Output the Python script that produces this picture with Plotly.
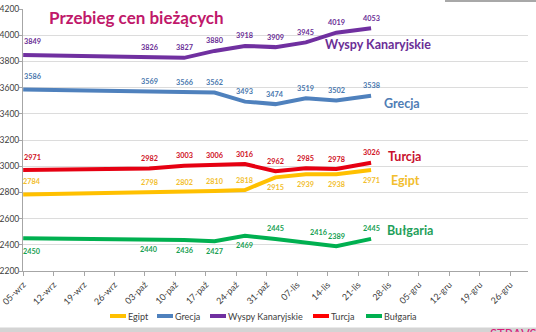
import plotly.graph_objects as go

# Observation dates (weekly price snapshots)
dates = ["2011-09-05", "2011-10-04", "2011-10-12", "2011-10-19", "2011-10-26",
         "2011-11-02", "2011-11-09", "2011-11-16", "2011-11-24"]

# Average current prices per destination
egipt = [2784, 2798, 2802, 2810, 2818, 2915, 2939, 2938, 2971]
grecja = [3586, 3569, 3566, 3562, 3493, 3474, 3519, 3502, 3538]
wyspy = [3849, 3826, 3827, 3880, 3918, 3909, 3945, 4019, 4053]
turcja = [2971, 2982, 3003, 3006, 3016, 2962, 2985, 2978, 3026]
bulgaria = [2450, 2440, 2436, 2427, 2469, 2445, 2416, 2389, 2445]

# Axis ticks
tick_dates = ["2011-09-05", "2011-09-12", "2011-09-19", "2011-09-26", "2011-10-03",
              "2011-10-10", "2011-10-17", "2011-10-24", "2011-10-31", "2011-11-07",
              "2011-11-14", "2011-11-21", "2011-11-28", "2011-12-05", "2011-12-12",
              "2011-12-19", "2011-12-26"]
tick_labels = ["05-wrz", "12-wrz", "19-wrz", "26-wrz", "03-paź", "10-paź", "17-paź",
               "24-paź", "31-paź", "07-lis", "14-lis", "21-lis", "28-lis", "05-gru",
               "12-gru", "19-gru", "26-gru"]
y_ticks = [2200, 2400, 2600, 2800, 3000, 3200, 3400, 3600, 3800, 4000, 4200]

FONT = "Lato"

series = [
    # name, values, line colour, label colour, label side per point (+1 above, -1 below)
    ("Egipt", egipt, "#FFC000", "#F2BE2E", [1, 1, 1, 1, 1, -1, -1, -1, -1]),
    ("Grecja", grecja, "#4F81BD", "#4A78AE", [1] * 9),
    ("Wyspy Kanaryjskie", wyspy, "#7030A0", "#6A2E96", [1] * 9),
    ("Turcja", turcja, "#E60012", "#D0101E", [1] * 9),
    ("Bułgaria", bulgaria, "#00B050", "#17A052", [-1, -1, -1, -1, -1, 1, 1, 1, 1]),
]

# Series names written next to the line ends: (text, x px, y px, colour)
side_names = [
    ("Wyspy Kanaryjskie", 378, 44.5, "#6A2E96"),
    ("Grecja", 402, 103, "#4F7DB5"),
    ("Turcja", 404, 156, "#C8102E"),
    ("Egipt", 405, 180, "#F2BE2E"),
    ("Bułgaria", 410, 230, "#1FA05A"),
]

W, H = 536, 332
ML, MR, MT, MB = 23, 8, 9, 61
PW, PH = W - ML - MR, H - MT - MB


def px(x):
    return (x - ML) / PW


def py(y):
    return (H - MB - y) / PH


fig = go.Figure()
annotations = []

for name, vals, lc, tc, sides in series:
    fig.add_trace(go.Scatter(
        x=dates, y=vals, mode="lines", name=name,
        line=dict(color=lc, width=4), showlegend=False, hoverinfo="skip",
    ))
    for i, (d, v) in enumerate(zip(dates, vals)):
        xs = 0
        ys = 10 * sides[i]
        if i == 0:
            xs = 9
            ys = 13 * sides[i]
        if name == "Bułgaria" and i == 6:
            xs = 13
        annotations.append(dict(
            x=d, y=v, text=str(v), showarrow=False, xshift=xs, yshift=ys,
            font=dict(family=FONT, size=7.3, color=tc, weight="bold"),
        ))

for text, x, y, c in side_names:
    annotations.append(dict(
        xref="paper", yref="paper", x=px(x), y=py(y), text=text, showarrow=False,
        xanchor="center", yanchor="middle",
        font=dict(family=FONT, size=12.5, color=c, weight="bold"),
    ))

# Title
annotations.append(dict(
    xref="paper", yref="paper", x=px(47), y=py(17), text="Przebieg cen bieżących",
    showarrow=False, xanchor="left", yanchor="middle",
    font=dict(family=FONT, size=17, color="#C0186A", weight="bold"),
))

# Legend drawn as short line keys with labels
legend_items = [
    ("Egipt", "#FFC000", 110),
    ("Grecja", "#4F81BD", 157),
    ("Wyspy Kanaryjskie", "#7030A0", 210),
    ("Turcja", "#FF0000", 313),
    ("Bułgaria", "#00B050", 366),
]
shapes = []
LY = 316
for text, c, x0 in legend_items:
    shapes.append(dict(type="line", xref="paper", yref="paper",
                       x0=px(x0), x1=px(x0 + 16), y0=py(LY), y1=py(LY),
                       line=dict(color=c, width=4)))
    annotations.append(dict(
        xref="paper", yref="paper", x=px(x0 + 16), y=py(LY), text=text,
        showarrow=False, xanchor="left", yanchor="middle",
        font=dict(family=FONT, size=9, color="#404040"),
    ))

# Frame details around the chart
shapes.append(dict(type="line", xref="paper", yref="paper",
                   x0=px(445), x1=px(536), y0=py(1), y1=py(1),
                   line=dict(color="#A8A8A8", width=2)))
shapes.append(dict(type="rect", xref="paper", yref="paper",
                   x0=px(0), x1=px(536), y0=py(332), y1=py(327.5),
                   line=dict(width=0), fillcolor="#D4D4D4"))
annotations.append(dict(
    xref="paper", yref="paper", x=px(488), y=py(324), text="STRAVS",
    showarrow=False, xanchor="left", yanchor="top",
    font=dict(family=FONT, size=13, color="#D81B78"),
))

fig.update_layout(
    width=W, height=H,
    margin=dict(l=ML, r=MR, t=MT, b=MB, autoexpand=False),
    paper_bgcolor="white", plot_bgcolor="white",
    showlegend=False,
    annotations=annotations,
    shapes=shapes,
    font=dict(family=FONT, color="#404040"),
)
fig.update_xaxes(
    type="date", range=["2011-09-04 23:00", "2011-12-30 02:00"],
    tickmode="array", tickvals=tick_dates, ticktext=tick_labels, tickangle=-45,
    tickfont=dict(family=FONT, size=9, color="#404040"),
    showgrid=False, showline=True, linecolor="#A6A6A6", linewidth=1,
    ticks="outside", ticklen=4, tickcolor="#A6A6A6", automargin=False,
)
fig.update_yaxes(
    range=[2200, 4200], tickmode="array", tickvals=y_ticks,
    tickfont=dict(family=FONT, size=8.5, color="#404040"),
    ticklabelstandoff=-2,
    showgrid=True, gridcolor="#DCDCDC", gridwidth=1,
    showline=True, linecolor="#A6A6A6", linewidth=1,
    ticks="outside", ticklen=3, tickcolor="#A6A6A6", automargin=False,
    zeroline=False,
)

fig.write_html("out.html")
